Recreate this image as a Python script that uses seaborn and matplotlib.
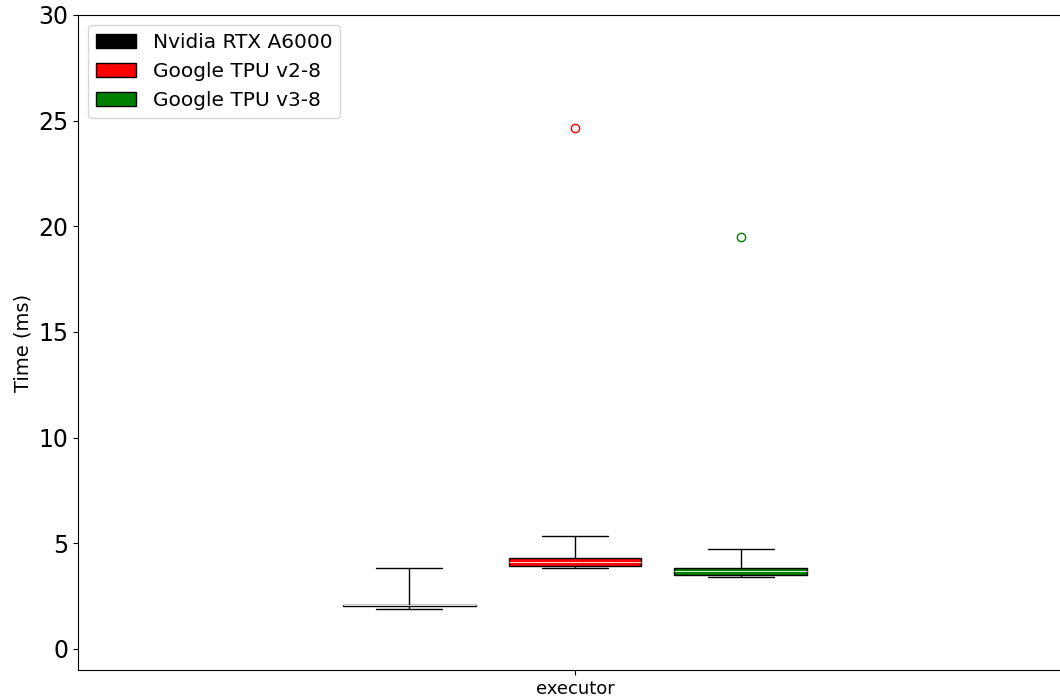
import numpy as np
import pandas as pd
import matplotlib
matplotlib.use("Agg")
import matplotlib.pyplot as plt
import seaborn as sns
from matplotlib.patches import Patch

# -------------------------------------------------------------------------
# Data (ms)
# -------------------------------------------------------------------------
DEVICES = ["Nvidia RTX A6000", "Google TPU v2-8", "Google TPU v3-8"]
COLORS = ["black", "red", "green"]
CATEGORY = "executor"

a6000_times = [1.90, 1.98, 2.05, 2.06, 2.07, 2.08, 2.10, 2.30, 3.85]
tpu_v2_times = [3.83, 3.88, 3.92, 4.00, 4.11, 4.20, 4.30, 5.34, 24.66]
tpu_v3_times = [3.40, 3.45, 3.50, 3.60, 3.68, 3.75, 3.83, 4.72, 19.50]

rows = []
for dev, vals in zip(DEVICES, [a6000_times, tpu_v2_times, tpu_v3_times]):
    for v in vals:
        rows.append({"x": CATEGORY, "device": dev, "time": v})
df = pd.DataFrame(rows)

# -------------------------------------------------------------------------
# Plot
# -------------------------------------------------------------------------
sns.set_style("ticks")
plt.rcParams["font.family"] = ["DejaVu Sans"]
plt.rcParams["text.color"] = "black"
plt.rcParams["axes.labelcolor"] = "black"
plt.rcParams["xtick.color"] = "black"
plt.rcParams["ytick.color"] = "black"

fig = plt.figure(figsize=(10.6, 6.97), dpi=100)
ax = fig.add_axes([78 / 1060, 1 - 670 / 697, (1072 - 78) / 1060, (670 - 15) / 697])

sns.boxplot(data=df, x="x", y="time", hue="device", hue_order=DEVICES,
            palette=COLORS, saturation=1, whis=40, width=0.8, gap=0.2,
            linecolor="black", linewidth=1.0, ax=ax, legend=False,
            medianprops={"color": "white", "linewidth": 0.6},
            flierprops={"marker": "o", "markersize": 6,
                        "markerfacecolor": "none"})

# colour the outlier markers like their boxes
for cont, col in zip(ax.containers, COLORS):
    fl = cont.fliers
    for ln in (fl if isinstance(fl, (list, tuple)) else [fl]):
        ln.set_markeredgecolor(col)

ax.set_xlim(-0.8, 0.8)
ax.set_ylim(-1, 30)
ax.set_yticks([0, 5, 10, 15, 20, 25, 30])
ax.tick_params(axis="y", labelsize=17)
ax.tick_params(axis="x", labelsize=13)
ax.set_xlabel("")
ax.set_ylabel("Time (ms)", fontsize=14)
for s in ax.spines.values():
    s.set_visible(True)
    s.set_color("black")

handles = [Patch(facecolor=c, edgecolor="black", label=d) for d, c in zip(DEVICES, COLORS)]
ax.legend(handles=handles, loc="upper left", fontsize=14.5, frameon=True,
          handlelength=2.0)

fig.savefig("out.png", dpi=100)
